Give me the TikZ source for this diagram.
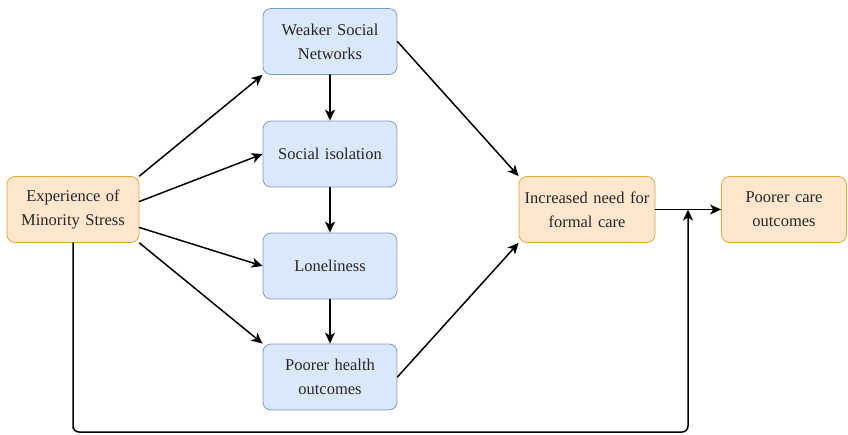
\documentclass[tikz,border=0pt]{standalone}
\usepackage{fontspec}
\setmainfont{Liberation Serif}
\usetikzlibrary{arrows.meta}
\definecolor{bluefill}{HTML}{DAE8FC}
\definecolor{blueline}{HTML}{7B9CCB}
\definecolor{orangefill}{HTML}{FFE6CC}
\definecolor{orangeline}{HTML}{DEAA3A}
\tikzset{
  bluebox/.style={draw=blueline,fill=bluefill,line width=0.8pt,rounded corners=8pt,minimum width=134pt,minimum height=66pt,inner xsep=2pt,align=center,text width=128pt,font=\fontsize{16.5}{24}\selectfont,text=black!85},
  orangebox/.style={bluebox,draw=orangeline,fill=orangefill},
  link/.style={-{Stealth[length=11pt,width=10pt,inset=3pt]},line width=1.5pt,black}
}
\begin{document}
\begin{tikzpicture}[line cap=round,line join=round,x=1pt,y=-1pt]
		\useasboundingbox (0,0) rectangle (848,434);
		% nodes
		\node[orangebox,minimum width=132pt,text width=126pt] (stress) at (73,209.5) {Experience of\\Minority Stress};
		\node[bluebox] (weaker) at (330,41.5) {Weaker Social\\Networks};
		\node[bluebox] (isolation) at (330,154) {Social isolation};
		\node[bluebox] (lonely) at (330,266) {Loneliness};
		\node[bluebox] (health) at (330,377) {Poorer health\\outcomes};
		\node[orangebox,minimum width=136pt,text width=132pt] (need) at (587,209.5) {Increased need for\\formal care};
		\node[orangebox,minimum width=125pt,text width=120pt] (care) at (784,209.5) {Poorer care\\outcomes};
		\coordinate (turn) at (688,209.5);
		% arrows
		\draw[link] (stress.north east) -- (weaker.south west);
		\draw[link] ([yshift=8pt]stress.east) -- (isolation.west);
		\draw[link] ([yshift=-18pt]stress.east) -- (lonely.west);
		\draw[link] (stress.south east) -- (health.north west);
		\draw[link] (weaker) -- (isolation);
		\draw[link] (isolation) -- (lonely);
		\draw[link] (lonely) -- (health);
		\draw[link] (weaker.east) -- (need.north west);
		\draw[link] (health.east) -- (need.south west);
		\draw[link] (need) -- (care);
		\draw[link,rounded corners=6pt] (stress.south) |- (73,432) -| (turn);
	\end{tikzpicture}
\end{document}
